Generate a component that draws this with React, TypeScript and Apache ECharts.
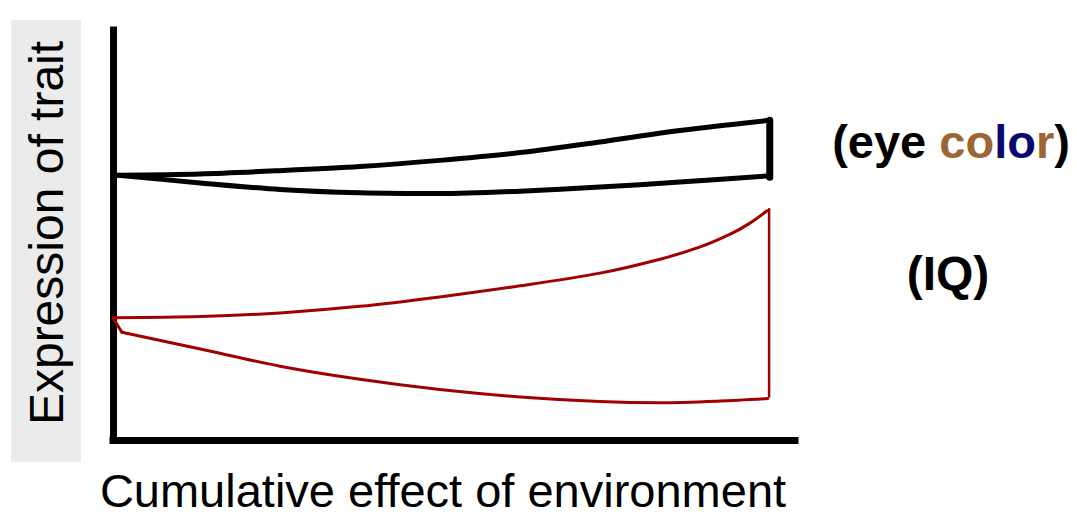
import React, { useEffect, useRef } from "react";
import * as echarts from "echarts";

// Axis domain: 0..100 on both axes (arbitrary units)
const eyeUpperX = [0.7, 12.8, 24.5, 36.2, 47.9, 59.7, 71.4, 83.1, 95.9];
const eyeUpperY = [64.6, 64.9, 65.7, 66.7, 68.2, 70.1, 72.7, 75.5, 77.9];
const eyeLowerX = [0.7, 12.8, 24.5, 36.2, 47.9, 59.7, 71.4, 83.1, 95.9];
const eyeLowerY = [64.6, 62.7, 61.1, 60.3, 60.1, 60.7, 61.7, 62.9, 64.4];
const eyeRangeX = [96.3, 96.3];
const eyeRangeY = [78.0, 64.1];

const iqUpperX = [0, 12.8, 24.5, 36.2, 47.9, 59.7, 71.4, 80.2, 86.1, 90.5, 93.4, 95.9];
const iqUpperY = [29.8, 30.1, 31.0, 32.6, 34.9, 37.6, 40.7, 44.1, 47.1, 50.2, 52.9, 55.9];
const iqKinkX = [0, 1.3];
const iqKinkY = [29.8, 26.3];
const iqLowerX = [1.3, 12.8, 24.5, 36.2, 47.9, 59.7, 71.4, 80.2, 89.0, 96.0];
const iqLowerY = [26.3, 22.2, 18.0, 14.8, 12.3, 10.5, 9.4, 9.1, 9.5, 10.1];
const iqRangeX = [96.2, 96.2];
const iqRangeY = [56.3, 10.6];

const xTitle = "Cumulative effect of environment";
const yTitle = "Expression of trait";

const zip = (xs: number[], ys: number[]) => xs.map((x, i) => [x, ys[i]]);

const BLACK = "#000000";
const RED = "#a00000";
const FONT = "Liberation Sans, Arial, sans-serif";

export default function App() {
  const ref = useRef<HTMLDivElement>(null);
  useEffect(() => {
    if (!ref.current) return;
    const chart = echarts.init(ref.current, undefined, { renderer: "svg" });
    const line = (data: number[][], color: string, width: number, smooth: number | boolean) => ({
      type: "line",
      data,
      smooth,
      symbol: "none",
      silent: true,
      lineStyle: { color, width, cap: "round", join: "round" },
    });
    chart.setOption({
      animation: false,
      backgroundColor: "#ffffff",
      grid: { left: 113, top: 30, width: 682, height: 410, containLabel: false },
      xAxis: {
        type: "value",
        min: 0,
        max: 100,
        axisLine: { show: true, onZero: false, lineStyle: { color: BLACK, width: 7, cap: "square" } },
        axisTick: { show: false },
        axisLabel: { show: false },
        splitLine: { show: false },
      },
      yAxis: {
        type: "value",
        min: 0,
        max: 100,
        axisLine: { show: true, onZero: false, lineStyle: { color: BLACK, width: 7, cap: "square" } },
        axisTick: { show: false },
        axisLabel: { show: false },
        splitLine: { show: false },
      },
      graphic: [
        {
          type: "rect",
          z: -10,
          shape: { x: 11, y: 20, width: 70, height: 442 },
          style: { fill: "#ebebeb" },
        },
        {
          type: "text",
          x: 46,
          y: 233,
          rotation: Math.PI / 2,
          style: {
            text: yTitle,
            fill: "#000",
            font: `48px ${FONT}`,
            textAlign: "center",
            textVerticalAlign: "middle",
          },
        },
        {
          type: "text",
          x: 443,
          y: 490,
          style: {
            text: xTitle,
            fill: "#000",
            font: `47px ${FONT}`,
            textAlign: "center",
            textVerticalAlign: "middle",
          },
        },
        {
          type: "text",
          x: 951,
          y: 141,
          style: {
            text: "{k|(eye }{b|co}{n|lo}{b|r}{k|)}",
            font: `bold 47px ${FONT}`,
            textAlign: "center",
            textVerticalAlign: "middle",
            rich: {
              k: { fill: "#000000", font: `bold 47px ${FONT}` },
              b: { fill: "#9c6634", font: `bold 47px ${FONT}` },
              n: { fill: "#0a0a6e", font: `bold 47px ${FONT}` },
            },
          },
        },
        {
          type: "text",
          x: 948,
          y: 273,
          style: {
            text: "(IQ)",
            fill: "#000",
            font: `bold 48px ${FONT}`,
            textAlign: "center",
            textVerticalAlign: "middle",
          },
        },
      ],
      series: [
        line(zip(eyeUpperX, eyeUpperY), BLACK, 5, 0.3),
        line(zip(eyeLowerX, eyeLowerY), BLACK, 5, 0.3),
        line(zip(eyeRangeX, eyeRangeY), BLACK, 7, false),
        line(zip(iqUpperX, iqUpperY), RED, 3, 0.3),
        line(zip(iqKinkX, iqKinkY), RED, 3, false),
        line(zip(iqLowerX, iqLowerY), RED, 3, 0.3),
        line(zip(iqRangeX, iqRangeY), RED, 2.5, false),
      ],
    });
    return () => chart.dispose();
  }, []);
  return (
    <div
      ref={ref}
      style={{ position: "absolute", left: 0, top: 0, width: 1077, height: 517 }}
    />
  );
}
